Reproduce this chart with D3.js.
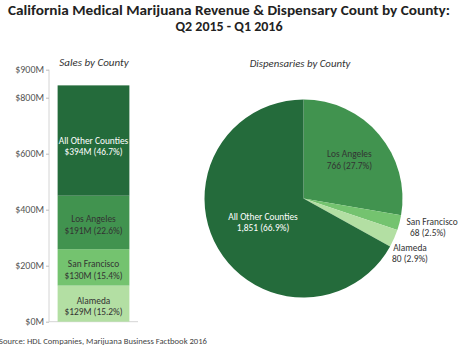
<!DOCTYPE html>
<html>
<head>
<meta charset="utf-8">
<script src="https://cdn.jsdelivr.net/npm/d3@7"></script>
<style>
  body { margin: 0; background: #fff; }
  svg { font-family: Carlito, Calibri, "Open Sans", sans-serif; display: block; }
</style>
</head>
<body>
<script>
// sales stacked bar, bottom to top
const salesCounties = ["Alameda", "San Francisco", "Los Angeles", "All Other Counties"]
const salesValues = [129, 130, 191, 394]
const salesPct = ["15.2%", "15.4%", "22.6%", "46.7%"]
const salesTicks = [0, 200, 400, 600, 800, 900]

// dispensary pie, clockwise from 12 o'clock
const pieCounties = ["Los Angeles", "San Francisco", "Alameda", "All Other Counties"]
const pieValues = [766, 68, 80, 1851]
const piePct = ["27.7%", "2.5%", "2.9%", "66.9%"]

const colors = {
  "Alameda": "#b3dfa3",
  "San Francisco": "#74c36f",
  "Los Angeles": "#41934f",
  "All Other Counties": "#246b3b"
}
const textColor = c => c === "All Other Counties" ? "#fff" : "#333"

const w = 458
const h = 346
const labelSize = "9.4px"

const svg = d3.select("body")
  .append("svg")
  .attr("width", w)
  .attr("height", h)

// title
const title = svg.append("text")
  .attr("x", w / 2)
  .attr("text-anchor", "middle")
  .style("font-weight", "bold")
  .style("font-size", "14px")
  .attr("fill", "#222")
title.append("tspan").attr("x", w / 2).attr("y", 15)
  .attr("textLength", 442)
  .attr("lengthAdjust", "spacingAndGlyphs")
  .text("California Medical Marijuana Revenue & Dispensary Count by County:")
title.append("tspan").attr("x", w / 2).attr("y", 31)
  .text("Q2 2015 - Q1 2016")

// ---- bar ----
const y = d3.scaleLinear()
  .domain([0, 900])
  .range([321.7, 69.7])

const x = d3.scaleBand()
  .domain(["Sales"])
  .range([49, 138])
  .paddingInner(0)
  .paddingOuter(0.12)

svg.append("text")
  .attr("x", 94)
  .attr("y", 66)
  .attr("text-anchor", "middle")
  .style("font-style", "italic")
  .style("font-size", "11px")
  .attr("fill", "#333")
  .text("Sales by County")

const yAxis = d3.axisLeft(y)
  .tickValues(salesTicks)
  .tickFormat(d => "$" + d + "M")
  .tickSize(3)
  .tickPadding(2)

const yg = svg.append("g")
  .attr("transform", "translate(49,0)")
  .call(yAxis)
yg.select(".domain").attr("stroke", "#d4d4d4").attr("d", "M0,69.7V321.7")
yg.selectAll(".tick line").attr("stroke", "#bbb")
yg.selectAll(".tick text")
  .attr("fill", "#555")
  .style("font-size", "10px")
  .style("font-family", "Carlito, Calibri, 'Open Sans', sans-serif")

svg.append("line")
  .attr("x1", 49).attr("x2", 138)
  .attr("y1", y(0)).attr("y2", y(0))
  .attr("stroke", "#d4d4d4")

const stack = []
let acc = 0
salesValues.forEach((v, i) => {
  stack.push({ name: salesCounties[i], v: v, pct: salesPct[i], y0: acc, y1: acc + v })
  acc += v
})

svg.selectAll("rect.seg")
  .data(stack)
  .enter()
  .append("rect")
  .attr("class", "seg")
  .attr("x", x("Sales"))
  .attr("width", x.bandwidth())
  .attr("y", d => y(d.y1))
  .attr("height", d => y(d.y0) - y(d.y1))
  .attr("fill", d => colors[d.name])

const barLabels = svg.selectAll("text.seg")
  .data(stack)
  .enter()
  .append("text")
  .attr("class", "seg")
  .attr("text-anchor", "middle")
  .style("font-size", labelSize)
  .attr("fill", d => textColor(d.name))
barLabels.append("tspan")
  .attr("x", x("Sales") + x.bandwidth() / 2)
  .attr("y", d => (y(d.y0) + y(d.y1)) / 2 + (d.name === "All Other Counties" ? 3 : 0))
  .text(d => d.name)
barLabels.append("tspan")
  .attr("x", x("Sales") + x.bandwidth() / 2)
  .attr("dy", 11.5)
  .text(d => "$" + d.v + "M (" + d.pct + ")")

// ---- pie ----
const cx = 303.5
const cy = 198.5
const r = 99

svg.append("text")
  .attr("x", 300)
  .attr("y", 67)
  .attr("text-anchor", "middle")
  .style("font-style", "italic")
  .style("font-size", "10.8px")
  .attr("fill", "#333")
  .text("Dispensaries by County")

const pie = d3.pie().sort(null).value(d => d.v)
const pieData = pie(pieCounties.map((n, i) => ({ name: n, v: pieValues[i], pct: piePct[i] })))

const arc = d3.arc().innerRadius(0).outerRadius(r)

const pg = svg.append("g").attr("transform", `translate(${cx},${cy})`)

pg.selectAll("path")
  .data(pieData)
  .enter()
  .append("path")
  .attr("d", arc)
  .attr("fill", d => colors[d.data.name])

// label radius per slice; small slices get their labels outside the pie
const labelRadius = { "Los Angeles": 60, "All Other Counties": 47 }
const outside = { "San Francisco": [128.5, 28.5], "Alameda": [106.5, 54.5] }

const labelPos = d => {
  if (outside[d.data.name]) return outside[d.data.name]
  const lr = labelRadius[d.data.name]
  return d3.arc().innerRadius(lr).outerRadius(lr).centroid(d)
}

const pieLabels = pg.selectAll("text.lbl")
  .data(pieData)
  .enter()
  .append("text")
  .attr("class", "lbl")
  .attr("text-anchor", "middle")
  .style("font-size", labelSize)
  .attr("fill", d => outside[d.data.name] ? "#333" : textColor(d.data.name))
  .attr("transform", d => `translate(${labelPos(d)})`)
pieLabels.append("tspan")
  .attr("x", 0).attr("y", -2.4)
  .text(d => d.data.name)
pieLabels.append("tspan")
  .attr("x", d => d.data.name === "San Francisco" ? -4 : 0)
  .attr("dy", 11.5)
  .text(d => d3.format(",")(d.data.v) + " (" + d.data.pct + ")")

// source
svg.append("text")
  .attr("x", -1)
  .attr("y", 344)
  .style("font-size", "8.6px")
  .attr("fill", "#444")
  .text("Source: HDL Companies, Marijuana Business Factbook 2016")
</script>
</body>
</html>
